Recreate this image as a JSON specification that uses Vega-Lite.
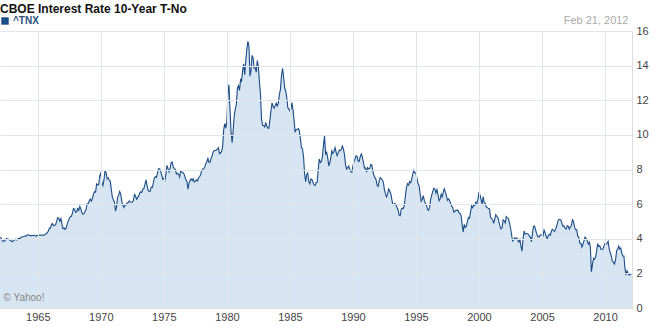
{
  "$schema": "https://vega.github.io/schema/vega-lite/v6.json",
  "autosize": "none",
  "width": 632,
  "height": 277,
  "padding": {"left": 0, "top": 31, "right": 23, "bottom": 19},
  "background": "white",
  "config": {"view": {"stroke": null}},
  "title": {"text": "CBOE Interest Rate 10-Year T-No", "anchor": "start", "frame": "group", "font": "Liberation Sans, Arial, sans-serif", "fontSize": 12, "fontWeight": "bold", "color": "#111111", "offset": 0, "dy": 2},
  "data": {"values": [
{"d":"1962-01","v":4.08},{"d":"1962-02","v":4.04},{"d":"1962-03","v":3.93},{"d":"1962-04","v":3.84},{"d":"1962-05","v":3.87},{"d":"1962-06","v":3.91},{"d":"1962-07","v":4.01},{"d":"1962-08","v":3.98},{"d":"1962-09","v":3.98},{"d":"1962-10","v":3.93},{"d":"1962-11","v":3.92},{"d":"1962-12","v":3.86},
{"d":"1963-01","v":3.83},{"d":"1963-02","v":3.92},{"d":"1963-03","v":3.93},{"d":"1963-04","v":3.97},{"d":"1963-05","v":3.93},{"d":"1963-06","v":3.99},{"d":"1963-07","v":4.02},{"d":"1963-08","v":4.00},{"d":"1963-09","v":4.08},{"d":"1963-10","v":4.11},{"d":"1963-11","v":4.12},{"d":"1963-12","v":4.13},
{"d":"1964-01","v":4.17},{"d":"1964-02","v":4.15},{"d":"1964-03","v":4.22},{"d":"1964-04","v":4.23},{"d":"1964-05","v":4.20},{"d":"1964-06","v":4.17},{"d":"1964-07","v":4.19},{"d":"1964-08","v":4.19},{"d":"1964-09","v":4.20},{"d":"1964-10","v":4.19},{"d":"1964-11","v":4.15},{"d":"1964-12","v":4.18},
{"d":"1965-01","v":4.19},{"d":"1965-02","v":4.21},{"d":"1965-03","v":4.21},{"d":"1965-04","v":4.20},{"d":"1965-05","v":4.21},{"d":"1965-06","v":4.21},{"d":"1965-07","v":4.20},{"d":"1965-08","v":4.25},{"d":"1965-09","v":4.29},{"d":"1965-10","v":4.35},{"d":"1965-11","v":4.45},{"d":"1965-12","v":4.62},
{"d":"1966-01","v":4.61},{"d":"1966-02","v":4.83},{"d":"1966-03","v":4.87},{"d":"1966-04","v":4.75},{"d":"1966-05","v":4.78},{"d":"1966-06","v":4.81},{"d":"1966-07","v":5.02},{"d":"1966-08","v":5.22},{"d":"1966-09","v":5.18},{"d":"1966-10","v":5.01},{"d":"1966-11","v":5.16},{"d":"1966-12","v":4.84},
{"d":"1967-01","v":4.58},{"d":"1967-02","v":4.63},{"d":"1967-03","v":4.54},{"d":"1967-04","v":4.59},{"d":"1967-05","v":4.85},{"d":"1967-06","v":5.02},{"d":"1967-07","v":5.16},{"d":"1967-08","v":5.28},{"d":"1967-09","v":5.30},{"d":"1967-10","v":5.48},{"d":"1967-11","v":5.75},{"d":"1967-12","v":5.70},
{"d":"1968-01","v":5.53},{"d":"1968-02","v":5.56},{"d":"1968-03","v":5.74},{"d":"1968-04","v":5.64},{"d":"1968-05","v":5.87},{"d":"1968-06","v":5.72},{"d":"1968-07","v":5.50},{"d":"1968-08","v":5.42},{"d":"1968-09","v":5.46},{"d":"1968-10","v":5.58},{"d":"1968-11","v":5.70},{"d":"1968-12","v":6.03},
{"d":"1969-01","v":6.04},{"d":"1969-02","v":6.19},{"d":"1969-03","v":6.30},{"d":"1969-04","v":6.17},{"d":"1969-05","v":6.32},{"d":"1969-06","v":6.57},{"d":"1969-07","v":6.72},{"d":"1969-08","v":6.69},{"d":"1969-09","v":7.16},{"d":"1969-10","v":7.10},{"d":"1969-11","v":7.14},{"d":"1969-12","v":7.65},
{"d":"1970-01","v":7.79},{"d":"1970-02","v":7.24},{"d":"1970-03","v":7.07},{"d":"1970-04","v":7.39},{"d":"1970-05","v":7.91},{"d":"1970-06","v":7.84},{"d":"1970-07","v":7.46},{"d":"1970-08","v":7.53},{"d":"1970-09","v":7.39},{"d":"1970-10","v":7.33},{"d":"1970-11","v":6.84},{"d":"1970-12","v":6.39},
{"d":"1971-01","v":6.24},{"d":"1971-02","v":6.11},{"d":"1971-03","v":5.60},{"d":"1971-04","v":5.83},{"d":"1971-05","v":6.39},{"d":"1971-06","v":6.52},{"d":"1971-07","v":6.73},{"d":"1971-08","v":6.58},{"d":"1971-09","v":6.14},{"d":"1971-10","v":5.93},{"d":"1971-11","v":5.81},{"d":"1971-12","v":5.93},
{"d":"1972-01","v":5.95},{"d":"1972-02","v":6.08},{"d":"1972-03","v":6.07},{"d":"1972-04","v":6.19},{"d":"1972-05","v":6.13},{"d":"1972-06","v":6.11},{"d":"1972-07","v":6.11},{"d":"1972-08","v":6.21},{"d":"1972-09","v":6.55},{"d":"1972-10","v":6.48},{"d":"1972-11","v":6.28},{"d":"1972-12","v":6.36},
{"d":"1973-01","v":6.46},{"d":"1973-02","v":6.64},{"d":"1973-03","v":6.71},{"d":"1973-04","v":6.67},{"d":"1973-05","v":6.85},{"d":"1973-06","v":6.90},{"d":"1973-07","v":7.13},{"d":"1973-08","v":7.40},{"d":"1973-09","v":7.09},{"d":"1973-10","v":6.79},{"d":"1973-11","v":6.73},{"d":"1973-12","v":6.74},
{"d":"1974-01","v":6.99},{"d":"1974-02","v":6.96},{"d":"1974-03","v":7.21},{"d":"1974-04","v":7.51},{"d":"1974-05","v":7.58},{"d":"1974-06","v":7.54},{"d":"1974-07","v":7.81},{"d":"1974-08","v":8.04},{"d":"1974-09","v":8.04},{"d":"1974-10","v":7.90},{"d":"1974-11","v":7.68},{"d":"1974-12","v":7.43},
{"d":"1975-01","v":7.50},{"d":"1975-02","v":7.39},{"d":"1975-03","v":7.73},{"d":"1975-04","v":8.23},{"d":"1975-05","v":8.06},{"d":"1975-06","v":7.86},{"d":"1975-07","v":8.06},{"d":"1975-08","v":8.40},{"d":"1975-09","v":8.43},{"d":"1975-10","v":8.14},{"d":"1975-11","v":8.05},{"d":"1975-12","v":8.00},
{"d":"1976-01","v":7.74},{"d":"1976-02","v":7.79},{"d":"1976-03","v":7.73},{"d":"1976-04","v":7.56},{"d":"1976-05","v":7.90},{"d":"1976-06","v":7.86},{"d":"1976-07","v":7.83},{"d":"1976-08","v":7.77},{"d":"1976-09","v":7.59},{"d":"1976-10","v":7.41},{"d":"1976-11","v":7.29},{"d":"1976-12","v":6.87},
{"d":"1977-01","v":7.21},{"d":"1977-02","v":7.39},{"d":"1977-03","v":7.46},{"d":"1977-04","v":7.37},{"d":"1977-05","v":7.46},{"d":"1977-06","v":7.28},{"d":"1977-07","v":7.33},{"d":"1977-08","v":7.40},{"d":"1977-09","v":7.34},{"d":"1977-10","v":7.52},{"d":"1977-11","v":7.58},{"d":"1977-12","v":7.69},
{"d":"1978-01","v":7.96},{"d":"1978-02","v":8.03},{"d":"1978-03","v":8.04},{"d":"1978-04","v":8.15},{"d":"1978-05","v":8.35},{"d":"1978-06","v":8.46},{"d":"1978-07","v":8.64},{"d":"1978-08","v":8.41},{"d":"1978-09","v":8.42},{"d":"1978-10","v":8.64},{"d":"1978-11","v":8.81},{"d":"1978-12","v":9.01},
{"d":"1979-01","v":9.10},{"d":"1979-02","v":9.10},{"d":"1979-03","v":9.12},{"d":"1979-04","v":9.18},{"d":"1979-05","v":9.25},{"d":"1979-06","v":8.91},{"d":"1979-07","v":8.95},{"d":"1979-08","v":9.03},{"d":"1979-09","v":9.33},{"d":"1979-10","v":10.30},{"d":"1979-11","v":10.65},{"d":"1979-12","v":10.39},
{"d":"1980-01","v":10.80},{"d":"1980-02","v":12.41},{"d":"1980-03","v":12.90},{"d":"1980-04","v":11.47},{"d":"1980-05","v":10.18},{"d":"1980-06","v":9.55},{"d":"1980-07","v":10.25},{"d":"1980-08","v":11.10},{"d":"1980-09","v":11.51},{"d":"1980-10","v":11.75},{"d":"1980-11","v":12.68},{"d":"1980-12","v":12.84},
{"d":"1981-01","v":12.57},{"d":"1981-02","v":13.19},{"d":"1981-03","v":13.12},{"d":"1981-04","v":13.68},{"d":"1981-05","v":14.10},{"d":"1981-06","v":13.47},{"d":"1981-07","v":14.28},{"d":"1981-08","v":14.94},{"d":"1981-09","v":15.40},{"d":"1981-10","v":15.15},{"d":"1981-11","v":13.39},{"d":"1981-12","v":13.72},
{"d":"1982-01","v":14.59},{"d":"1982-02","v":14.43},{"d":"1982-03","v":13.86},{"d":"1982-04","v":13.87},{"d":"1982-05","v":13.62},{"d":"1982-06","v":14.30},{"d":"1982-07","v":13.95},{"d":"1982-08","v":13.06},{"d":"1982-09","v":12.34},{"d":"1982-10","v":10.91},{"d":"1982-11","v":10.55},{"d":"1982-12","v":10.54},
{"d":"1983-01","v":10.46},{"d":"1983-02","v":10.72},{"d":"1983-03","v":10.51},{"d":"1983-04","v":10.40},{"d":"1983-05","v":10.38},{"d":"1983-06","v":10.85},{"d":"1983-07","v":11.38},{"d":"1983-08","v":11.85},{"d":"1983-09","v":11.65},{"d":"1983-10","v":11.54},{"d":"1983-11","v":11.69},{"d":"1983-12","v":11.83},
{"d":"1984-01","v":11.67},{"d":"1984-02","v":11.84},{"d":"1984-03","v":12.32},{"d":"1984-04","v":12.63},{"d":"1984-05","v":13.41},{"d":"1984-06","v":13.85},{"d":"1984-07","v":13.36},{"d":"1984-08","v":12.72},{"d":"1984-09","v":12.52},{"d":"1984-10","v":12.16},{"d":"1984-11","v":11.57},{"d":"1984-12","v":11.50},
{"d":"1985-01","v":11.38},{"d":"1985-02","v":11.51},{"d":"1985-03","v":11.86},{"d":"1985-04","v":11.43},{"d":"1985-05","v":10.85},{"d":"1985-06","v":10.16},{"d":"1985-07","v":10.31},{"d":"1985-08","v":10.33},{"d":"1985-09","v":10.37},{"d":"1985-10","v":10.24},{"d":"1985-11","v":9.78},{"d":"1985-12","v":9.26},
{"d":"1986-01","v":9.19},{"d":"1986-02","v":8.70},{"d":"1986-03","v":7.78},{"d":"1986-04","v":7.30},{"d":"1986-05","v":7.71},{"d":"1986-06","v":7.80},{"d":"1986-07","v":7.30},{"d":"1986-08","v":7.17},{"d":"1986-09","v":7.45},{"d":"1986-10","v":7.43},{"d":"1986-11","v":7.25},{"d":"1986-12","v":7.11},
{"d":"1987-01","v":7.08},{"d":"1987-02","v":7.25},{"d":"1987-03","v":7.25},{"d":"1987-04","v":8.02},{"d":"1987-05","v":8.61},{"d":"1987-06","v":8.40},{"d":"1987-07","v":8.45},{"d":"1987-08","v":8.76},{"d":"1987-09","v":9.42},{"d":"1987-10","v":9.95},{"d":"1987-11","v":8.86},{"d":"1987-12","v":8.99},
{"d":"1988-01","v":8.67},{"d":"1988-02","v":8.21},{"d":"1988-03","v":8.37},{"d":"1988-04","v":8.72},{"d":"1988-05","v":9.09},{"d":"1988-06","v":8.92},{"d":"1988-07","v":9.06},{"d":"1988-08","v":9.26},{"d":"1988-09","v":8.98},{"d":"1988-10","v":8.80},{"d":"1988-11","v":8.96},{"d":"1988-12","v":9.11},
{"d":"1989-01","v":9.09},{"d":"1989-02","v":9.17},{"d":"1989-03","v":9.36},{"d":"1989-04","v":9.18},{"d":"1989-05","v":8.86},{"d":"1989-06","v":8.28},{"d":"1989-07","v":8.02},{"d":"1989-08","v":8.11},{"d":"1989-09","v":8.19},{"d":"1989-10","v":8.01},{"d":"1989-11","v":7.87},{"d":"1989-12","v":7.84},
{"d":"1990-01","v":8.21},{"d":"1990-02","v":8.47},{"d":"1990-03","v":8.59},{"d":"1990-04","v":8.79},{"d":"1990-05","v":8.76},{"d":"1990-06","v":8.48},{"d":"1990-07","v":8.47},{"d":"1990-08","v":8.75},{"d":"1990-09","v":8.89},{"d":"1990-10","v":8.72},{"d":"1990-11","v":8.39},{"d":"1990-12","v":8.08},
{"d":"1991-01","v":8.09},{"d":"1991-02","v":7.85},{"d":"1991-03","v":8.11},{"d":"1991-04","v":8.04},{"d":"1991-05","v":8.07},{"d":"1991-06","v":8.28},{"d":"1991-07","v":8.27},{"d":"1991-08","v":7.90},{"d":"1991-09","v":7.65},{"d":"1991-10","v":7.53},{"d":"1991-11","v":7.42},{"d":"1991-12","v":7.09},
{"d":"1992-01","v":7.03},{"d":"1992-02","v":7.34},{"d":"1992-03","v":7.54},{"d":"1992-04","v":7.48},{"d":"1992-05","v":7.39},{"d":"1992-06","v":7.26},{"d":"1992-07","v":6.84},{"d":"1992-08","v":6.59},{"d":"1992-09","v":6.42},{"d":"1992-10","v":6.59},{"d":"1992-11","v":6.87},{"d":"1992-12","v":6.77},
{"d":"1993-01","v":6.60},{"d":"1993-02","v":6.26},{"d":"1993-03","v":5.98},{"d":"1993-04","v":5.97},{"d":"1993-05","v":6.04},{"d":"1993-06","v":5.96},{"d":"1993-07","v":5.81},{"d":"1993-08","v":5.68},{"d":"1993-09","v":5.36},{"d":"1993-10","v":5.33},{"d":"1993-11","v":5.72},{"d":"1993-12","v":5.77},
{"d":"1994-01","v":5.75},{"d":"1994-02","v":5.97},{"d":"1994-03","v":6.48},{"d":"1994-04","v":6.97},{"d":"1994-05","v":7.18},{"d":"1994-06","v":7.10},{"d":"1994-07","v":7.30},{"d":"1994-08","v":7.24},{"d":"1994-09","v":7.46},{"d":"1994-10","v":7.74},{"d":"1994-11","v":7.96},{"d":"1994-12","v":7.81},
{"d":"1995-01","v":7.78},{"d":"1995-02","v":7.47},{"d":"1995-03","v":7.20},{"d":"1995-04","v":7.06},{"d":"1995-05","v":6.63},{"d":"1995-06","v":6.17},{"d":"1995-07","v":6.28},{"d":"1995-08","v":6.49},{"d":"1995-09","v":6.20},{"d":"1995-10","v":6.04},{"d":"1995-11","v":5.93},{"d":"1995-12","v":5.71},
{"d":"1996-01","v":5.65},{"d":"1996-02","v":5.81},{"d":"1996-03","v":6.27},{"d":"1996-04","v":6.51},{"d":"1996-05","v":6.74},{"d":"1996-06","v":6.91},{"d":"1996-07","v":6.87},{"d":"1996-08","v":6.64},{"d":"1996-09","v":6.83},{"d":"1996-10","v":6.53},{"d":"1996-11","v":6.20},{"d":"1996-12","v":6.30},
{"d":"1997-01","v":6.58},{"d":"1997-02","v":6.42},{"d":"1997-03","v":6.69},{"d":"1997-04","v":6.89},{"d":"1997-05","v":6.71},{"d":"1997-06","v":6.49},{"d":"1997-07","v":6.22},{"d":"1997-08","v":6.30},{"d":"1997-09","v":6.21},{"d":"1997-10","v":6.03},{"d":"1997-11","v":5.88},{"d":"1997-12","v":5.81},
{"d":"1998-01","v":5.54},{"d":"1998-02","v":5.57},{"d":"1998-03","v":5.65},{"d":"1998-04","v":5.64},{"d":"1998-05","v":5.65},{"d":"1998-06","v":5.50},{"d":"1998-07","v":5.46},{"d":"1998-08","v":5.34},{"d":"1998-09","v":4.81},{"d":"1998-10","v":4.40},{"d":"1998-11","v":4.83},{"d":"1998-12","v":4.65},
{"d":"1999-01","v":4.72},{"d":"1999-02","v":5.00},{"d":"1999-03","v":5.23},{"d":"1999-04","v":5.18},{"d":"1999-05","v":5.54},{"d":"1999-06","v":5.90},{"d":"1999-07","v":5.79},{"d":"1999-08","v":5.94},{"d":"1999-09","v":5.92},{"d":"1999-10","v":6.11},{"d":"1999-11","v":6.03},{"d":"1999-12","v":6.28},
{"d":"2000-01","v":6.70},{"d":"2000-02","v":6.52},{"d":"2000-03","v":6.26},{"d":"2000-04","v":5.99},{"d":"2000-05","v":6.44},{"d":"2000-06","v":6.10},{"d":"2000-07","v":6.05},{"d":"2000-08","v":5.83},{"d":"2000-09","v":5.80},{"d":"2000-10","v":5.74},{"d":"2000-11","v":5.72},{"d":"2000-12","v":5.24},
{"d":"2001-01","v":5.16},{"d":"2001-02","v":5.10},{"d":"2001-03","v":4.89},{"d":"2001-04","v":5.14},{"d":"2001-05","v":5.39},{"d":"2001-06","v":5.28},{"d":"2001-07","v":5.24},{"d":"2001-08","v":4.97},{"d":"2001-09","v":4.73},{"d":"2001-10","v":4.57},{"d":"2001-11","v":4.65},{"d":"2001-12","v":5.09},
{"d":"2002-01","v":5.04},{"d":"2002-02","v":4.91},{"d":"2002-03","v":5.28},{"d":"2002-04","v":5.21},{"d":"2002-05","v":5.16},{"d":"2002-06","v":4.93},{"d":"2002-07","v":4.65},{"d":"2002-08","v":4.26},{"d":"2002-09","v":3.87},{"d":"2002-10","v":3.94},{"d":"2002-11","v":4.05},{"d":"2002-12","v":4.03},
{"d":"2003-01","v":4.05},{"d":"2003-02","v":3.90},{"d":"2003-03","v":3.81},{"d":"2003-04","v":3.96},{"d":"2003-05","v":3.57},{"d":"2003-06","v":3.28},{"d":"2003-07","v":3.98},{"d":"2003-08","v":4.45},{"d":"2003-09","v":4.27},{"d":"2003-10","v":4.29},{"d":"2003-11","v":4.30},{"d":"2003-12","v":4.27},
{"d":"2004-01","v":4.15},{"d":"2004-02","v":4.08},{"d":"2004-03","v":3.83},{"d":"2004-04","v":4.35},{"d":"2004-05","v":4.72},{"d":"2004-06","v":4.73},{"d":"2004-07","v":4.50},{"d":"2004-08","v":4.28},{"d":"2004-09","v":4.13},{"d":"2004-10","v":4.10},{"d":"2004-11","v":4.19},{"d":"2004-12","v":4.23},
{"d":"2005-01","v":4.22},{"d":"2005-02","v":4.17},{"d":"2005-03","v":4.50},{"d":"2005-04","v":4.34},{"d":"2005-05","v":4.14},{"d":"2005-06","v":4.00},{"d":"2005-07","v":4.18},{"d":"2005-08","v":4.26},{"d":"2005-09","v":4.20},{"d":"2005-10","v":4.46},{"d":"2005-11","v":4.54},{"d":"2005-12","v":4.47},
{"d":"2006-01","v":4.42},{"d":"2006-02","v":4.57},{"d":"2006-03","v":4.72},{"d":"2006-04","v":4.99},{"d":"2006-05","v":5.11},{"d":"2006-06","v":5.11},{"d":"2006-07","v":5.09},{"d":"2006-08","v":4.88},{"d":"2006-09","v":4.72},{"d":"2006-10","v":4.73},{"d":"2006-11","v":4.60},{"d":"2006-12","v":4.56},
{"d":"2007-01","v":4.76},{"d":"2007-02","v":4.72},{"d":"2007-03","v":4.56},{"d":"2007-04","v":4.69},{"d":"2007-05","v":4.75},{"d":"2007-06","v":5.10},{"d":"2007-07","v":5.00},{"d":"2007-08","v":4.67},{"d":"2007-09","v":4.52},{"d":"2007-10","v":4.53},{"d":"2007-11","v":4.15},{"d":"2007-12","v":4.10},
{"d":"2008-01","v":3.74},{"d":"2008-02","v":3.74},{"d":"2008-03","v":3.51},{"d":"2008-04","v":3.68},{"d":"2008-05","v":3.88},{"d":"2008-06","v":4.10},{"d":"2008-07","v":4.01},{"d":"2008-08","v":3.89},{"d":"2008-09","v":3.69},{"d":"2008-10","v":3.81},{"d":"2008-11","v":3.53},{"d":"2008-12","v":2.10},
{"d":"2009-01","v":2.52},{"d":"2009-02","v":2.87},{"d":"2009-03","v":2.82},{"d":"2009-04","v":2.93},{"d":"2009-05","v":3.29},{"d":"2009-06","v":3.72},{"d":"2009-07","v":3.56},{"d":"2009-08","v":3.59},{"d":"2009-09","v":3.40},{"d":"2009-10","v":3.39},{"d":"2009-11","v":3.40},{"d":"2009-12","v":3.59},
{"d":"2010-01","v":3.73},{"d":"2010-02","v":3.69},{"d":"2010-03","v":3.73},{"d":"2010-04","v":3.85},{"d":"2010-05","v":3.42},{"d":"2010-06","v":3.20},{"d":"2010-07","v":3.01},{"d":"2010-08","v":2.70},{"d":"2010-09","v":2.65},{"d":"2010-10","v":2.54},{"d":"2010-11","v":2.76},{"d":"2010-12","v":3.29},
{"d":"2011-01","v":3.39},{"d":"2011-02","v":3.58},{"d":"2011-03","v":3.41},{"d":"2011-04","v":3.46},{"d":"2011-05","v":3.17},{"d":"2011-06","v":3.00},{"d":"2011-07","v":3.00},{"d":"2011-08","v":2.30},{"d":"2011-09","v":1.90},{"d":"2011-10","v":2.15},{"d":"2011-11","v":2.01},{"d":"2011-12","v":1.90},
{"d":"2012-01","v":1.97},{"d":"2012-02-21","v":1.98}
  ]},
  "encoding": {
    "x": {
      "field": "d", "type": "temporal",
      "scale": {"domain": ["1962-01-01", "2012-02-21"]},
      "axis": {
        "zindex": 1,
        "values": ["1965-01-01", "1970-01-01", "1975-01-01", "1980-01-01", "1985-01-01", "1990-01-01", "1995-01-01", "2000-01-01", "2005-01-01", "2010-01-01"],
        "format": "%Y", "grid": true, "gridColor": "#dfe5ea", "ticks": false,
        "domain": true, "domainColor": "#dddddd",
        "labelFont": "Liberation Sans Narrow, Liberation Sans, Arial, sans-serif", "labelFontSize": 11, "labelColor": "#444444", "labelPadding": 3,
        "title": "© Yahoo!", "titleFont": "Liberation Sans, Arial, sans-serif", "titleFontSize": 10, "titleFontWeight": "normal", "titleColor": "#888888",
        "titleAnchor": "start", "titleAlign": "left", "titleBaseline": "middle", "titleX": 3, "titleY": -11
      }
    },
    "y": {
      "field": "v", "type": "quantitative",
      "scale": {"domain": [0, 16], "nice": false},
      "axis": {
        "zindex": 1,
        "orient": "right", "values": [0, 2, 4, 6, 8, 10, 12, 14, 16],
        "grid": true, "gridColor": "#dfe5ea", "ticks": false,
        "domain": true, "domainColor": "#dddddd",
        "labelFont": "Liberation Sans Narrow, Liberation Sans, Arial, sans-serif", "labelFontSize": 11, "labelColor": "#444444", "labelPadding": 4,
        "title": "Feb 21, 2012", "titleFont": "Liberation Sans Narrow, Liberation Sans, Arial, sans-serif", "titleFontSize": 11, "titleFontWeight": "normal", "titleColor": "#aaaaaa",
        "titleAngle": 0, "titleAlign": "right", "titleBaseline": "middle", "titleX": -4, "titleY": -11
      }
    }
  },
  "layer": [
    {"mark": {"type": "area", "color": "#d6e5f1", "opacity": 1}},
    {
      "mark": {"type": "line", "strokeWidth": 1.1},
      "encoding": {
        "color": {
          "datum": "^TNX", "type": "nominal",
          "scale": {"range": ["#1b4c86"]},
          "legend": {
            "orient": "none", "legendX": 0, "legendY": -15, "title": null,
            "symbolType": "square", "symbolSize": 55, "symbolStrokeWidth": 0, "symbolFillColor": "#1b4c86",
            "labelFont": "Liberation Sans, Arial, sans-serif", "labelFontSize": 10, "labelFontWeight": "bold", "labelColor": "#2a4f7c", "labelOffset": 3
          }
        }
      }
    }
  ]
}
